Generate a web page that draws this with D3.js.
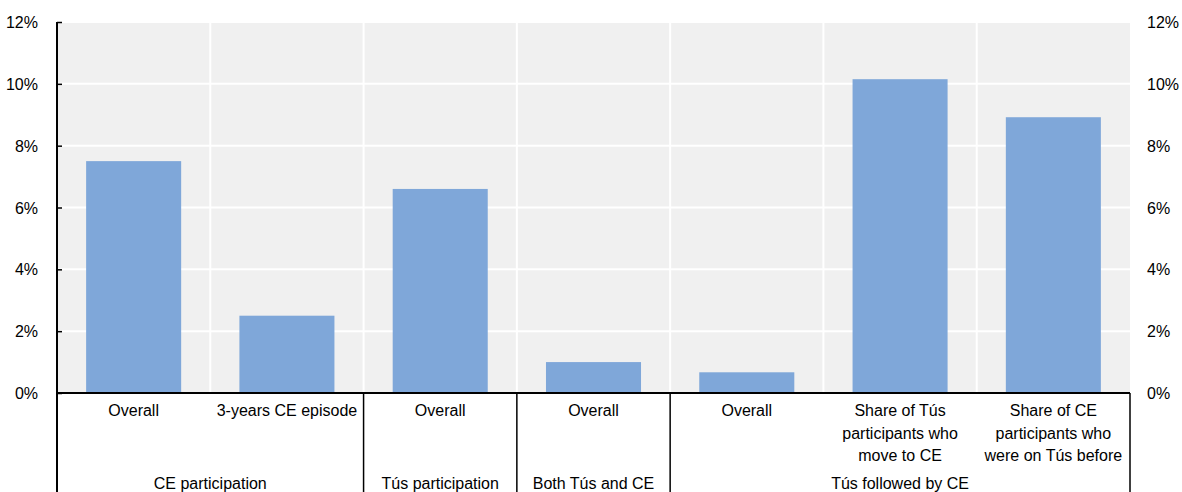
<!DOCTYPE html>
<html><head><meta charset="utf-8">
<script src="https://cdn.jsdelivr.net/npm/d3@7"></script>
<style>body{margin:0;background:#fff}svg{display:block;font-family:"Liberation Sans",Arial,sans-serif}</style>
</head><body><svg id="c" width="1182" height="492"></svg>
<script>
const categories = [
  ["Overall"],
  ["3-years CE episode"],
  ["Overall"],
  ["Overall"],
  ["Overall"],
  ["Share of Tús", "participants who", "move to CE"],
  ["Share of CE", "participants who", "were on Tús before"]
];
const values = [7.5, 2.5, 6.6, 1.0, 0.67, 10.15, 8.92];
const groups = ["CE participation", "Tús participation", "Both Tús and CE", "Tús followed by CE"];
const groupSpans = [[0, 1], [2, 2], [3, 3], [4, 6]];
const yTicks = [0, 2, 4, 6, 8, 10, 12];

const svg = d3.select("#c");
const L = 57, R = 1130, T = 22, B = 393;
const idx = d3.range(categories.length);
const x = d3.scaleBand().domain(idx).range([L, R]).paddingInner(0).paddingOuter(0);
const y = d3.scaleLinear().domain([0, 12]).range([B, T]);
const bw = x.bandwidth();

svg.append("rect").attr("x", L).attr("y", T).attr("width", R - L).attr("height", B - T).attr("fill", "#f0f0f0");
// horizontal grid
svg.append("g").selectAll("line").data(yTicks.slice(1)).join("line")
  .attr("x1", L).attr("x2", R).attr("y1", d => y(d)).attr("y2", d => y(d))
  .attr("stroke", "#fff").attr("stroke-width", 2);
// vertical grid
svg.append("g").selectAll("line").data(idx.slice(1)).join("line")
  .attr("x1", d => x(d)).attr("x2", d => x(d)).attr("y1", T).attr("y2", B)
  .attr("stroke", "#fff").attr("stroke-width", 2);
// bars
const barW = bw * 0.62;
svg.append("g").selectAll("rect").data(values).join("rect")
  .attr("x", (d, i) => x(i) + (bw - barW) / 2).attr("width", barW)
  .attr("y", d => y(d)).attr("height", d => B - y(d)).attr("fill", "#7fa7d9");

// left axis
const la = svg.append("g").attr("transform", `translate(${L},0)`)
  .call(d3.axisRight(y).tickValues(yTicks).tickSize(5).tickFormat(""));
la.select(".domain").remove();
la.selectAll("line").attr("stroke", "#000").attr("stroke-width", 1.5);
svg.append("line").attr("x1", L).attr("x2", L).attr("y1", T).attr("y2", 492).attr("stroke", "#000").attr("stroke-width", 2);
svg.append("g").selectAll("text").data(yTicks).join("text")
  .attr("x", 38).attr("y", d => y(d) + 6).attr("text-anchor", "end")
  .attr("font-size", 16).attr("fill", "#000").text(d => d + "%");
svg.append("g").selectAll("text").data(yTicks).join("text")
  .attr("x", 1147).attr("y", d => y(d) + 6).attr("text-anchor", "start")
  .attr("font-size", 16).attr("fill", "#000").text(d => d + "%");

// x axis
svg.append("line").attr("x1", L).attr("x2", R).attr("y1", B).attr("y2", B).attr("stroke", "#000").attr("stroke-width", 2);
// group separators
const seps = groupSpans.map(s => x(s[1]) + bw);
svg.append("g").selectAll("line").data(seps).join("line")
  .attr("x1", d => d).attr("x2", d => d).attr("y1", B).attr("y2", 492)
  .attr("stroke", "#000").attr("stroke-width", 1.5);
// category labels
const cl = svg.append("g").selectAll("text").data(categories).join("text")
  .attr("x", (d, i) => x(i) + bw / 2).attr("y", 416).attr("text-anchor", "middle")
  .attr("font-size", 16).attr("fill", "#000");
cl.selectAll("tspan").data(d => d).join("tspan")
  .attr("x", function () { return d3.select(this.parentNode).attr("x"); })
  .attr("dy", (d, i) => i === 0 ? 0 : 22.5).text(d => d);
// group labels
svg.append("g").selectAll("text").data(groups).join("text")
  .attr("x", (d, i) => (x(groupSpans[i][0]) + x(groupSpans[i][1]) + bw) / 2)
  .attr("y", 489).attr("text-anchor", "middle").attr("font-size", 16).attr("fill", "#000")
  .text(d => d);
</script></body></html>
